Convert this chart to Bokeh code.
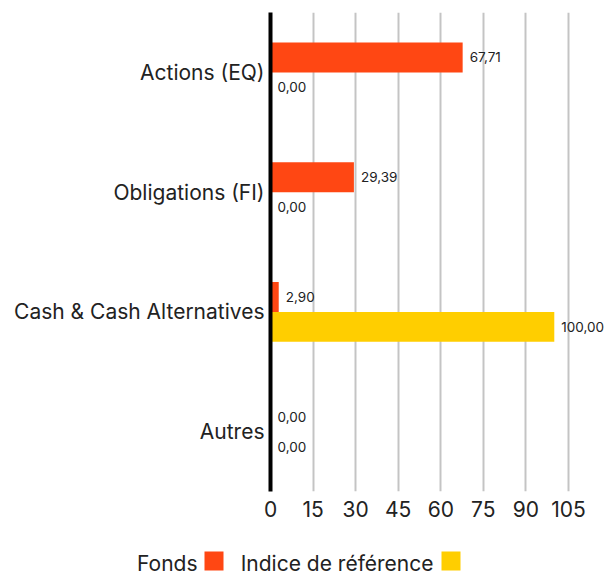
from bokeh.plotting import figure
from bokeh.layouts import column, row
from bokeh.models import FactorRange, FixedTicker, Range1d, ColumnDataSource
from bokeh.transform import dodge
from bokeh.core.properties import value
from bokeh.embed import file_html
from bokeh.resources import INLINE

categories = ["Actions (EQ)", "Obligations (FI)", "Cash & Cash Alternatives", "Autres"]
fonds = [67.71, 29.39, 2.90, 0.00]
indice = [0.00, 0.00, 100.00, 0.00]
x_ticks = [0, 15, 30, 45, 60, 75, 90, 105]
series_names = ["Fonds", "Indice de référence"]
colors = ["#ff4713", "#ffce00"]

FONT = "Inter"
TXT = "#222222"

def fmt(v):
    return f"{v:.2f}".replace(".", ",")

src = ColumnDataSource(dict(
    cat=categories,
    fonds=fonds,
    indice=indice,
    fonds_lbl=[fmt(v) for v in fonds],
    indice_lbl=[fmt(v) for v in indice],
))

p = figure(
    width=608, height=530,
    y_range=FactorRange(factors=list(reversed(categories)), range_padding=0),
    x_range=Range1d(0, 119.1),
    output_backend="svg", toolbar_location=None,
    min_border_left=270, min_border_right=0, min_border_top=12, min_border_bottom=39,
)
p.outline_line_color = None

p.hbar(y=dodge("cat", 0.125, range=p.y_range), right="fonds", left=0, height=0.25,
       source=src, color=colors[0], line_color=None)
p.hbar(y=dodge("cat", -0.125, range=p.y_range), right="indice", left=0, height=0.25,
       source=src, color=colors[1], line_color=None)

p.text(x="fonds", y=dodge("cat", 0.125, range=p.y_range), text="fonds_lbl", source=src,
       x_offset=7, text_baseline="middle", text_font=value(FONT), text_font_size="13.5px",
       text_color=TXT)
p.text(x="indice", y=dodge("cat", -0.125, range=p.y_range), text="indice_lbl", source=src,
       x_offset=7, text_baseline="middle", text_font=value(FONT), text_font_size="13.5px",
       text_color=TXT)

# axes
p.xaxis.ticker = FixedTicker(ticks=x_ticks)
p.xaxis.axis_line_color = None
p.xaxis.major_tick_line_color = None
p.xaxis.minor_tick_line_color = None
p.xaxis.major_label_text_font = FONT
p.xaxis.major_label_text_font_size = "21px"
p.xaxis.major_label_text_color = TXT
p.xaxis.major_label_standoff = 3

p.yaxis.axis_line_color = "black"
p.yaxis.axis_line_width = 4
p.yaxis.major_tick_line_color = None
p.yaxis.minor_tick_line_color = None
p.yaxis.major_label_text_font = FONT
p.yaxis.major_label_text_font_size = "21px"
p.yaxis.major_label_text_color = TXT
p.yaxis.major_label_standoff = 0

p.xgrid.grid_line_color = "#c4c4c4"
p.xgrid.grid_line_width = 2
p.xgrid.ticker = FixedTicker(ticks=x_ticks[1:])
p.ygrid.grid_line_color = None

# legend strip (label first, swatch after), x range in page pixels
lg = figure(width=608, height=46, x_range=Range1d(0, 608), y_range=Range1d(0, 46),
            output_backend="svg", toolbar_location=None,
            min_border_left=0, min_border_right=0, min_border_top=0, min_border_bottom=0)
lg.axis.visible = False
lg.grid.visible = False
lg.outline_line_color = None
leg = ColumnDataSource(dict(
    name=series_names,
    color=colors,
    tx=[197, 433],
    sx=[213.5, 450.5],
))
lg.text(x="tx", y=13, text="name", source=leg, text_align="right", text_baseline="middle",
        text_font=value(FONT), text_font_size="21px", text_color=TXT)
lg.rect(x="sx", y=15.5, width=19, height=19, source=leg, fill_color="color", line_color=None)

open("out.html", "w").write(file_html(column(p, row(lg), spacing=0), INLINE))
